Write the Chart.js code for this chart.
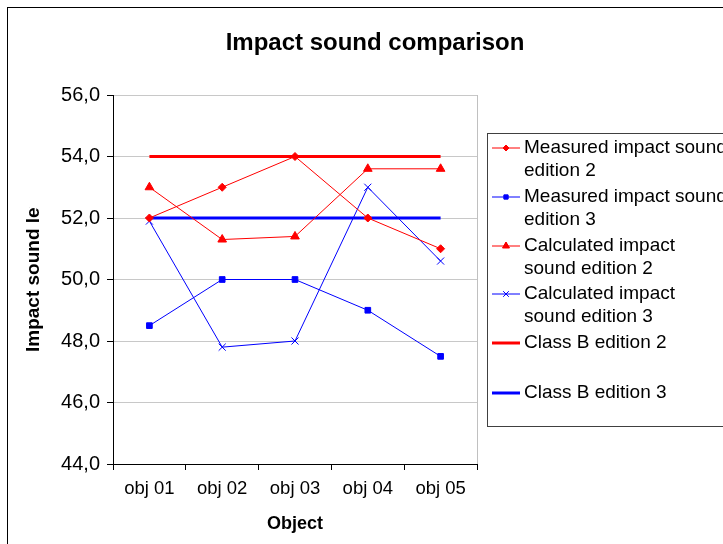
<!DOCTYPE html>
<html>
<head>
<meta charset="utf-8">
<script src="https://cdn.jsdelivr.net/npm/chart.js@4"></script>
<style>
  html, body { margin: 0; padding: 0; background: #fff; }
  #wrap { width: 723px; height: 544px; position: relative; }
</style>
</head>
<body>
<div id="wrap"><canvas id="c" width="723" height="544"></canvas></div>
<script>
// Objects along the x axis
const categories = ['obj 01', 'obj 02', 'obj 03', 'obj 04', 'obj 05'];

// Impact sound levels per object
const measuredEdition2   = [52.0, 53.0, 54.0, 52.0, 51.0];
const measuredEdition3   = [48.5, 50.0, 50.0, 49.0, 47.5];
const calculatedEdition2 = [53.0, 51.3, 51.4, 53.6, 53.6];
const calculatedEdition3 = [51.9, 47.8, 48.0, 53.0, 50.6];
const classBEdition2     = [54.0, 54.0, 54.0, 54.0, 54.0];
const classBEdition3     = [52.0, 52.0, 52.0, 52.0, 52.0];

// Value axis range
const yMin = 44, yMax = 56, yStep = 2;

const chartTitle = 'Impact sound comparison';
const xTitle = 'Object';
const yTitle = 'Impact sound level (dB)';

const legendLines = [
  ['Measured impact sound', 'edition 2'],
  ['Measured impact sound', 'edition 3'],
  ['Calculated impact', 'sound edition 2'],
  ['Calculated impact', 'sound edition 3'],
  ['Class B edition 2'],
  ['Class B edition 3']
];

const RED = '#ff0000', BLUE = '#0000ff';
const FONT = '"Liberation Sans", Arial, sans-serif';

function series(label, data, color, style, radius, width) {
  return {
    label, data,
    borderColor: color, backgroundColor: color,
    borderWidth: width,
    pointStyle: style, pointRadius: radius, pointHoverRadius: radius,
    pointBorderWidth: 1, pointBorderColor: color, pointBackgroundColor: color,
    tension: 0, fill: false
  };
}

const datasets = [
  series(legendLines[0].join(' '), measuredEdition2, RED, 'rectRot', 4, 1),
  series(legendLines[1].join(' '), measuredEdition3, BLUE, 'rect', 4, 1),
  series(legendLines[2].join(' '), calculatedEdition2, RED, 'triangle', 5, 1),
  series(legendLines[3].join(' '), calculatedEdition3, BLUE, 'crossRot', 5, 1),
  series(legendLines[4].join(' '), classBEdition2, RED, false, 0, 3),
  series(legendLines[5].join(' '), classBEdition3, BLUE, false, 0, 3)
];
// thick reference lines sit beneath the measured/calculated series
datasets[4].order = 5;
datasets[5].order = 5;

const decorations = {
  id: 'decorations',
  beforeDraw(chart) {
    const ctx = chart.ctx;
    ctx.save();
    ctx.fillStyle = '#fff';
    ctx.fillRect(0, 0, chart.width, chart.height);
    ctx.restore();
  },
  afterDraw(chart) {
    const ctx = chart.ctx;
    const area = chart.chartArea;
    ctx.save();

    // plot area right edge
    ctx.strokeStyle = '#c0c0c0';
    ctx.lineWidth = 1;
    ctx.beginPath();
    ctx.moveTo(Math.round(area.right) + 0.5, area.top);
    ctx.lineTo(Math.round(area.right) + 0.5, area.bottom);
    ctx.stroke();

    // outer frame
    ctx.strokeStyle = '#000';
    ctx.lineWidth = 1;
    ctx.strokeRect(7.5, 7.5, 800, 700);

    // chart title
    ctx.fillStyle = '#000';
    ctx.font = 'bold 24px ' + FONT;
    ctx.textAlign = 'center';
    ctx.textBaseline = 'middle';
    ctx.fillText(chartTitle, 375, 43);

    // x axis title
    ctx.font = 'bold 18px ' + FONT;
    ctx.fillText(xTitle, (area.left + area.right) / 2, 524);

    // y axis title (clipped at the top)
    ctx.save();
    ctx.beginPath();
    ctx.rect(0, 207, 100, 400);
    ctx.clip();
    ctx.translate(34, 352);
    ctx.rotate(-Math.PI / 2);
    ctx.textAlign = 'left';
    ctx.textBaseline = 'middle';
    ctx.font = 'bold 19px ' + FONT;
    ctx.fillText(yTitle, 0, 0);
    ctx.restore();

    // legend box
    const lx = 487, ly = 133, lh = 293;
    ctx.strokeStyle = '#404040';
    ctx.lineWidth = 1;
    ctx.strokeRect(lx + 0.5, ly + 0.5, 400, lh);

    const rowY = [148, 197, 246, 294, 343, 393];
    ctx.font = '19px ' + FONT;
    ctx.textAlign = 'left';
    ctx.textBaseline = 'middle';
    chart.data.datasets.forEach((ds, i) => {
      const y = rowY[i];
      ctx.strokeStyle = ds.borderColor;
      ctx.lineWidth = ds.borderWidth >= 3 ? 3 : 1;
      ctx.beginPath();
      ctx.moveTo(492, y);
      ctx.lineTo(520, y);
      ctx.stroke();
      if (ds.pointStyle) {
        Chart.helpers.drawPoint(ctx, {
          pointStyle: ds.pointStyle,
          radius: ds.pointRadius - 1,
          rotation: 0,
          borderWidth: 1
        }, 506, y);
        ctx.fillStyle = ds.backgroundColor;
        if (ds.pointStyle !== 'crossRot') ctx.fill();
      }
      ctx.fillStyle = '#000';
      legendLines[i].forEach((t, k) => ctx.fillText(t, 524, y + k * 23));
    });

    ctx.restore();
  }
};

new Chart(document.getElementById('c'), {
  type: 'line',
  data: { labels: categories, datasets },
  plugins: [decorations],
  options: {
    responsive: false,
    animation: false,
    layout: { padding: { left: 0, right: 246, top: 95, bottom: 0 } },
    plugins: { legend: { display: false }, title: { display: false }, tooltip: { enabled: false } },
    scales: {
      x: {
        offset: true,
        grid: { offset: true, drawOnChartArea: false, drawTicks: true, tickLength: 6, tickColor: '#000', color: '#000' },
        border: { color: '#000', width: 1 },
        ticks: { color: '#000', font: { family: FONT, size: 18.5 }, padding: 8, maxRotation: 0 },
        afterFit(scale) { scale.height = 80; }
      },
      y: {
        min: yMin, max: yMax,
        grid: { color: '#c8c8c8', tickColor: '#000', tickLength: 6, drawTicks: true },
        border: { color: '#000', width: 1 },
        ticks: {
          stepSize: yStep, color: '#000', padding: 7,
          font: { family: FONT, size: 20 },
          callback: v => v.toFixed(1).replace('.', ',')
        },
        afterFit(scale) { scale.width = 113; }
      }
    }
  }
});
</script>
</body>
</html>
